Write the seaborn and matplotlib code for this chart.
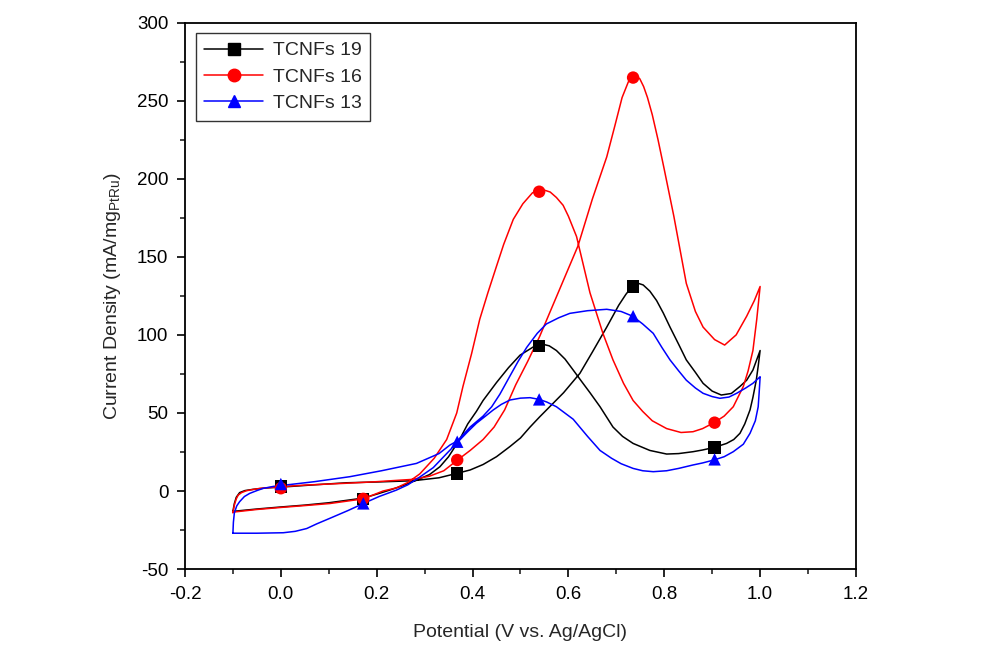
import matplotlib
matplotlib.use("Agg")
import matplotlib.pyplot as plt
import seaborn as sns
import pandas as pd
from matplotlib.lines import Line2D
from matplotlib.ticker import MultipleLocator

# ---------------- data ----------------
series_names = ["TCNFs 19", "TCNFs 16", "TCNFs 13"]
series_colors = ["#000000", "#ff0000", "#0000ff"]
series_markers = ["s", "o", "^"]

# TCNFs 19 (black)
v19_fwd = [-0.1, -0.097, -0.093, -0.086, -0.075, -0.058, -0.03, 0.0, 0.07, 0.137, 0.2, 0.276, 0.33, 0.367,
           0.395, 0.422, 0.45, 0.478, 0.5, 0.52, 0.54, 0.561, 0.59, 0.624, 0.65, 0.68, 0.705, 0.72, 0.733,
           0.746, 0.756, 0.77, 0.784, 0.798, 0.812, 0.83, 0.846, 0.865, 0.881, 0.9, 0.919, 0.94, 0.958,
           0.972, 0.985, 1.0]
i19_fwd = [-13, -8, -4, -1, 0.3, 1.1, 2, 2.5, 4, 5.3, 5.8, 6.6, 8.5, 11.3,
           13.5, 17, 22, 28.5, 34, 41, 47.5, 54, 63, 75.4, 89, 105, 119, 126, 131,
           133, 132, 128, 122, 114, 105, 94, 84, 76, 69, 64, 61.5, 62.5, 67,
           71, 77.5, 90]
v19_rev = [1.0, 0.996, 0.992, 0.985, 0.979, 0.968, 0.958, 0.945, 0.93, 0.905, 0.88, 0.86, 0.83, 0.805, 0.77,
           0.735, 0.713, 0.693, 0.666, 0.645, 0.628, 0.61, 0.593, 0.575, 0.56, 0.547, 0.533, 0.52, 0.499, 0.475,
           0.45, 0.422, 0.408, 0.39, 0.373, 0.35, 0.332, 0.31, 0.283, 0.255, 0.227, 0.2, 0.172, 0.1, 0.05, 0.0,
           -0.05, -0.1]
i19_rev = [90, 80, 71, 60, 52, 43, 37, 33, 30.5, 28, 26.3, 25.2, 24, 23.7, 26,
           30.5, 35, 41, 54, 63, 70, 77.5, 84.5, 90, 93, 94, 93.5, 91, 87, 79,
           69.5, 58, 51, 43, 33, 22, 15.6, 10.5, 7, 3.5, 0.6, -2, -4.5, -7.5, -9, -10.2,
           -11.5, -13]

# TCNFs 16 (red)
v16_fwd = [-0.1, -0.097, -0.093, -0.089, -0.082, -0.072, -0.058, -0.044, -0.02, 0.0, 0.05, 0.1, 0.137, 0.2,
           0.25, 0.276, 0.31, 0.34, 0.367, 0.395, 0.422, 0.445, 0.467, 0.49, 0.515, 0.54, 0.58, 0.62, 0.65,
           0.68, 0.697, 0.712, 0.725, 0.733, 0.741, 0.749, 0.757, 0.765, 0.775, 0.787, 0.8, 0.82, 0.846,
           0.865, 0.881, 0.905, 0.926, 0.95, 0.972, 0.988, 1.0]
i16_fwd = [-14, -9, -5, -2.6, -1, 0.2, 1.0, 1.7, 2.3, 2.8, 3.8, 4.5, 5, 6,
           7, 7.5, 9.5, 13, 19.5, 26, 33, 41, 52, 68, 83, 99, 128, 157, 187,
           214, 234, 252, 262, 265.5, 266, 264, 259, 252, 241, 225, 206, 176, 133,
           115, 105, 97, 93.5, 100, 112, 122, 131]
v16_rev = [1.0, 0.993, 0.985, 0.975, 0.965, 0.944, 0.925, 0.905, 0.88, 0.86, 0.835, 0.805, 0.775, 0.755,
           0.735, 0.715, 0.693, 0.672, 0.645, 0.617, 0.6, 0.589, 0.575, 0.562, 0.547, 0.535, 0.525, 0.505,
           0.485, 0.465, 0.45, 0.432, 0.415, 0.398, 0.38, 0.367, 0.346, 0.32, 0.29, 0.265, 0.241, 0.213,
           0.172, 0.102, 0.05, 0.0, -0.05, -0.1]
i16_rev = [131, 110, 90, 77, 67, 54, 48, 44, 40, 38, 37.5, 40, 45, 51,
           58, 69, 84, 101, 127, 163, 176, 183, 188, 191.5, 193, 192.5, 191, 184,
           174, 158, 144, 127, 110, 88, 67, 50, 33, 21, 11, 5.5, 2, 0,
           -5, -8, -9.3, -10.5, -11.8, -13.5]

# TCNFs 13 (blue)
v13_fwd = [-0.1, -0.099, -0.097, -0.092, -0.086, -0.076, -0.065, -0.05, -0.037, -0.015, 0.0, 0.07, 0.144,
           0.21, 0.283, 0.33, 0.353, 0.368, 0.395, 0.422, 0.44, 0.457, 0.475, 0.495, 0.513, 0.535, 0.554,
           0.58, 0.603, 0.64, 0.68, 0.71, 0.734, 0.755, 0.777, 0.795, 0.812, 0.83, 0.846, 0.865, 0.881,
           0.9, 0.916, 0.935, 0.951, 0.97, 0.985, 1.0]
i13_fwd = [-27, -20, -14, -9.5, -6.8, -3.5, -1.5, 0.3, 1.7, 3, 3.5, 6, 9.2,
           13, 17.7, 24, 29.5, 32, 41, 48, 54, 62, 72, 83, 92, 101, 107,
           111, 113.8, 115.5, 116.4, 115, 112, 107, 101, 92, 84, 77, 71, 66, 62.6,
           60.5, 59.4, 60.2, 62.6, 66, 69, 73.2]
v13_rev = [1.0, 0.998, 0.996, 0.99, 0.979, 0.965, 0.944, 0.925, 0.905, 0.88, 0.86, 0.83, 0.805, 0.777,
           0.755, 0.735, 0.71, 0.69, 0.666, 0.64, 0.61, 0.575, 0.555, 0.539, 0.52, 0.5, 0.478, 0.46, 0.443,
           0.425, 0.408, 0.39, 0.368, 0.346, 0.318, 0.29, 0.265, 0.241, 0.205, 0.172, 0.14, 0.102, 0.075,
           0.054, 0.03, 0.005, -0.05, -0.1]
i13_rev = [73, 63, 54, 45, 37, 30, 25.2, 22, 20, 18, 16.7, 14.5, 13, 12.4,
           13, 14.5, 17.5, 21, 26, 35, 46, 54, 57, 58.7, 59.8, 59.5, 58.3, 55.5, 51.9,
           47.5, 43.4, 38, 31, 24, 15, 9, 4, 0.6, -3.5, -8, -12.5, -17.5, -21,
           -24, -25.8, -26.7, -27, -27]

# marker points
mk_v = [0.0, 0.172, 0.368, 0.539, 0.735, 0.905]
mk19_i = [2.8, -5.0, 11.3, 92.9, 130.9, 28.0]
mk16_i = [1.8, -5.0, 19.9, 191.7, 264.8, 43.8]
mk13_i = [4.5, -7.9, 31.6, 58.7, 112.0, 20.3]

# ---------------- frames ----------------
curves = {
    "TCNFs 19": (v19_fwd + v19_rev, i19_fwd + i19_rev),
    "TCNFs 16": (v16_fwd + v16_rev, i16_fwd + i16_rev),
    "TCNFs 13": (v13_fwd + v13_rev, i13_fwd + i13_rev),
}
markers_i = {"TCNFs 19": mk19_i, "TCNFs 16": mk16_i, "TCNFs 13": mk13_i}

rows = []
for name, (vv, ii) in curves.items():
    for k, (v, c) in enumerate(zip(vv, ii)):
        rows.append({"series": name, "order": k, "V": v, "I": c})
df = pd.DataFrame(rows)

mrows = []
for name in series_names:
    for v, c in zip(mk_v, markers_i[name]):
        mrows.append({"series": name, "V": v, "I": c})
dm = pd.DataFrame(mrows)

# ---------------- plot ----------------
sns.set_style("ticks")
plt.rcParams["font.family"] = ["Liberation Sans", "DejaVu Sans"]
plt.rcParams["mathtext.fontset"] = "custom"
plt.rcParams["mathtext.rm"] = "Liberation Sans"
plt.rcParams["mathtext.it"] = "Liberation Sans:italic"
plt.rcParams["axes.unicode_minus"] = False
plt.rcParams["lines.solid_joinstyle"] = "round"

fig = plt.figure(figsize=(9.85, 6.46), dpi=100)
ax = fig.add_axes([0.1878, 0.119, 0.6812, 0.846])

palette = dict(zip(series_names, series_colors))
for name in series_names:
    sub = df[df["series"] == name]
    sns.lineplot(data=sub, x="V", y="I", sort=False, estimator=None, color=palette[name],
                 linewidth=1.1, ax=ax, legend=False)
for name, mk in zip(series_names, series_markers):
    sub = dm[dm["series"] == name]
    sns.scatterplot(data=sub, x="V", y="I", color=palette[name], marker=mk, s=80,
                    edgecolor="none", linewidth=0, ax=ax, legend=False, zorder=5)

ax.set_xlim(-0.2, 1.2)
ax.set_ylim(-50, 300)
ax.xaxis.set_major_locator(MultipleLocator(0.2))
ax.xaxis.set_minor_locator(MultipleLocator(0.1))
ax.yaxis.set_major_locator(MultipleLocator(50))
ax.yaxis.set_minor_locator(MultipleLocator(25))
ax.set_xticks([-0.2, 0.0, 0.2, 0.4, 0.6, 0.8, 1.0, 1.2])
ax.set_xticklabels(["-0.2", "0.0", "0.2", "0.4", "0.6", "0.8", "1.0", "1.2"])
ax.tick_params(axis="both", which="major", direction="out", length=6, width=1.2,
               labelsize=13.5, colors="black", top=False, right=False, pad=6)
ax.tick_params(axis="both", which="minor", direction="out", length=3.5, width=1.2,
               top=False, right=False)
for s in ax.spines.values():
    s.set_visible(True)
    s.set_linewidth(1.3)
    s.set_color("black")

ax.set_xlabel("Potential (V vs. Ag/AgCl)", fontsize=14, labelpad=15)
ax.set_ylabel(r"Current Density (mA/mg$_{\mathrm{PtRu}}$)", fontsize=14, labelpad=10)

handles = [Line2D([0], [0], color=c, marker=m, markersize=9, linewidth=1.1)
           for c, m in zip(series_colors, series_markers)]
leg = ax.legend(handles, series_names, loc="upper left", bbox_to_anchor=(0.016, 0.981),
                borderaxespad=0, fancybox=False, frameon=True, edgecolor="black",
                fontsize=14, handlelength=3.0, handletextpad=0.5, labelspacing=0.45,
                borderpad=0.45)
leg.get_frame().set_linewidth(1.0)

fig.savefig("out.png", dpi=100)
